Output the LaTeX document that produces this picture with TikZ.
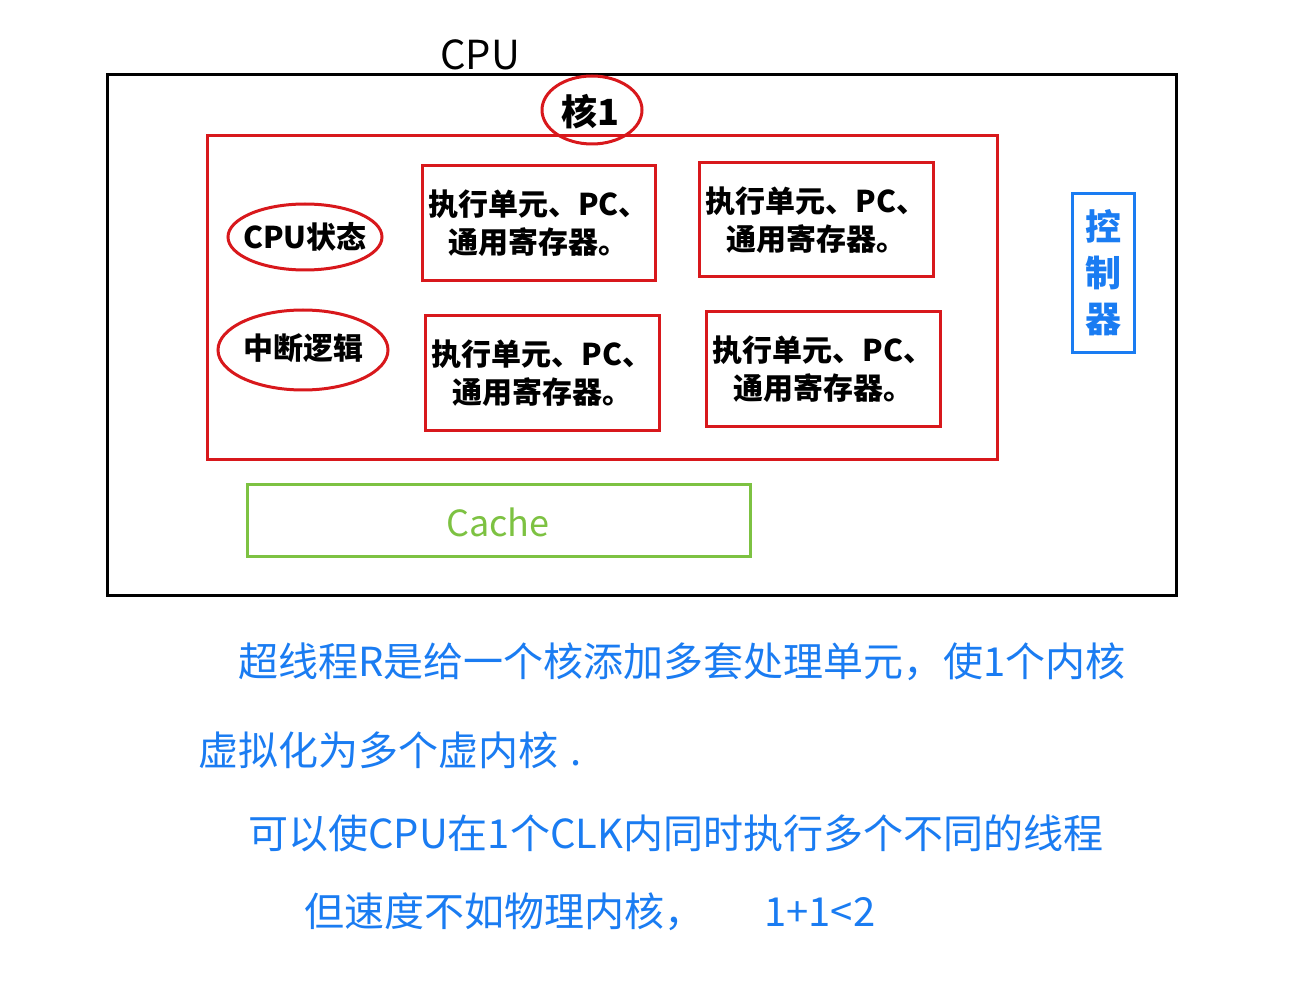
\documentclass[tikz,border=0pt]{standalone}
\usepackage{fontspec}
\newfontfamily\cjk{Noto Sans CJK SC}
\definecolor{hred}{HTML}{D8181C}
\definecolor{hblue}{HTML}{1A7CF2}
\definecolor{hgreen}{HTML}{7DC242}
\usetikzlibrary{shapes.geometric}
\begin{document}
\begin{tikzpicture}[x=1pt,y=-1pt,
  redbox/.style={draw=hred,line width=3pt},
  ring/.style={draw=hred,line width=3pt,ellipse,inner sep=0pt},
  ink/.style={font=\cjk\bfseries\fontsize{30}{38}\selectfont,text=black},
  note/.style={font=\cjk\fontsize{40}{44}\selectfont,text=hblue,anchor=west,inner sep=0pt}]
\useasboundingbox (0,0) rectangle (1310,1000);
\fill[white] (0,0) rectangle (1310,1000);
% CPU outer
\draw[line width=3pt] (107,75) rectangle (1176,595);
\node[font=\cjk\fontsize{40}{44}\selectfont] (cpu) at (480,55) {CPU};
% core
\draw[redbox] (207,136) rectangle (997,459);
\node[ring,minimum width=100pt,minimum height=68pt] (corering) at (592,110) {};
\node[ink,font=\cjk\bfseries\fontsize{36}{40}\selectfont] (core) at (590,112) {核1};
\node[ring,minimum width=154pt,minimum height=66pt] (statring) at (305,237) {};
\node[ink] (stat) at (305,237) {CPU状态};
\node[ring,minimum width=170pt,minimum height=80pt] (intring) at (303,350) {};
\node[ink] (int) at (303,348) {中断逻辑};
% units
\draw[redbox] (422,166) rectangle (655,281);
\node[ink,align=center] (u1) at (538.5,223.5) {执行单元、PC、\\通用寄存器。};
\draw[redbox] (699,163) rectangle (933,277);
\node[ink,align=center] (u2) at (816,220) {执行单元、PC、\\通用寄存器。};
\draw[redbox] (425,316) rectangle (659,430);
\node[ink,align=center] (u3) at (542,373) {执行单元、PC、\\通用寄存器。};
\draw[redbox] (706,312) rectangle (940,426);
\node[ink,align=center] (u4) at (823,369) {执行单元、PC、\\通用寄存器。};
% controller
\draw[draw=hblue,line width=3pt] (1072,194) rectangle (1134,353);
\node[font=\cjk\bfseries\fontsize{36}{46}\selectfont,text=hblue,align=center] (ctrl) at (1103,273) {控\\制\\器};
% cache
\draw[draw=hgreen,line width=3pt] (247,484) rectangle (750,556);
\node[font=\cjk\fontsize{36}{40}\selectfont,text=hgreen] (cache) at (498,522) {Cache};
% notes
\node[note] (n1) at (238,662) {超线程R是给一个核添加多套处理单元，使1个内核};
\node[note] (n2) at (198,750) {虚拟化为多个虚内核\hspace{12pt}.};
\node[note] (n3) at (248,833) {可以使CPU在1个CLK内同时执行多个不同的线程};
\node[note] (n4) at (304,912) {但速度不如物理内核，\hspace{60pt}1+1<2};
\end{tikzpicture}
\end{document}
